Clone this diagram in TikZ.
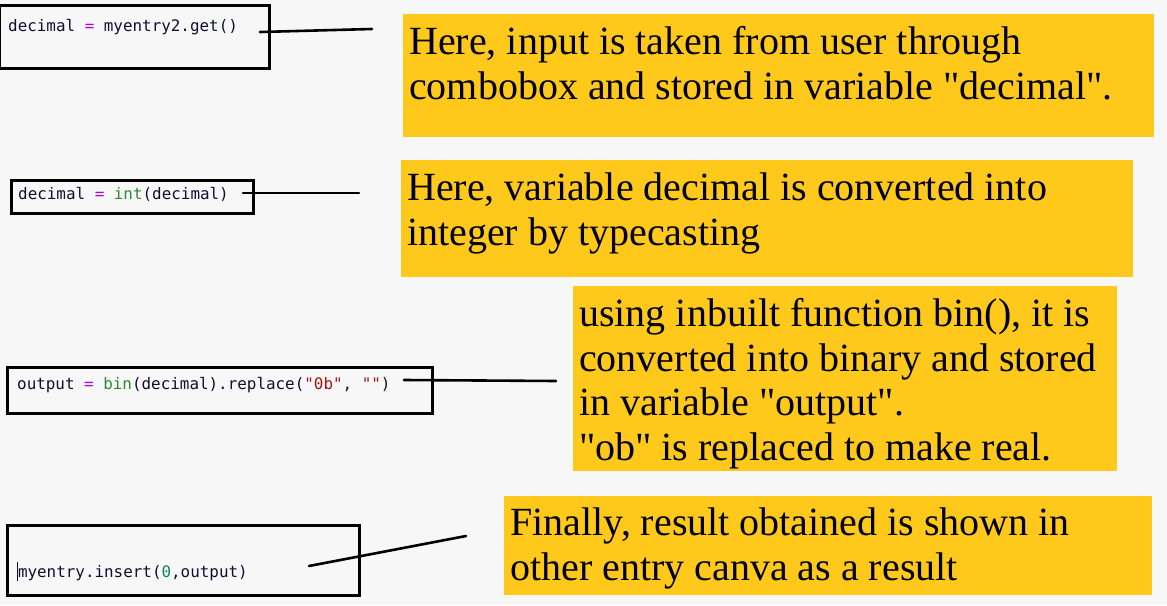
\documentclass[tikz,border=0pt]{standalone}
\usepackage{fontspec}
\setmainfont{Liberation Serif}
\setmonofont{DejaVu Sans Mono}
\definecolor{bgc}{HTML}{F7F7F7}
\definecolor{yel}{HTML}{FFC91C}
\definecolor{codetxt}{HTML}{101030}
\definecolor{kwpurple}{HTML}{AF00DB}
\definecolor{fngreen}{HTML}{2E8B2E}
\definecolor{strred}{HTML}{A31515}
\definecolor{numgreen}{HTML}{098658}
\tikzset{
  codebox/.style={draw=black, line width=3pt, rectangle, inner sep=0pt},
  codetext/.style={anchor=base west, inner sep=0pt, text=codetxt, font=\fontsize{15.9}{18}\ttfamily},
  ybox/.style={fill=yel, draw=none, rectangle, inner sep=0pt, anchor=north west},
  ytext/.style={anchor=base west, inner sep=0pt, align=left, font=\fontsize{40}{44.5}\selectfont},
  link/.style={draw=black, line width=2.6pt, line cap=round}
}
\newcommand{\kw}[1]{\textcolor{kwpurple}{#1}}
\newcommand{\fn}[1]{\textcolor{fngreen}{#1}}
\newcommand{\st}[1]{\textcolor{strred}{#1}}
\newcommand{\nm}[1]{\textcolor{numgreen}{#1}}
\newcommand{\dq}{\textquotedbl}
\begin{document}
\begin{tikzpicture}[x=1pt,y=-1pt]
\fill[bgc] (0,0) rectangle (1167,605);
\useasboundingbox (0,0) rectangle (1167,605);

% code boxes
\node[codebox, minimum width=270pt, minimum height=63pt, anchor=north west] (c1) at (-2,4) {};
\node[codebox, minimum width=242pt, minimum height=33pt, anchor=north west] (c2) at (10,179) {};
\node[codebox, minimum width=425pt, minimum height=46pt, anchor=north west] (c3) at (6,366) {};
\node[codebox, minimum width=352pt, minimum height=70pt, anchor=north west] (c4) at (6,524) {};

\node[codetext] (k1) at (8,31) {decimal \kw{=} myentry2.get()};
\node[codetext] (k2) at (18,199) {decimal \kw{=} \fn{int}(decimal)};
\node[codetext] (k3) at (17,389) {output \kw{=} \fn{bin}(decimal).replace(\st{"0b"}, \st{""})};
\node[codetext] (k4) at (17,577) {\rule[-4pt]{0.8pt}{19pt}myentry.insert(\nm{0},output)};

% yellow boxes
\node[ybox, minimum width=751pt, minimum height=123pt] (y1) at (403,14) {};
\node[ybox, minimum width=732pt, minimum height=117pt] (y2) at (401,160) {};
\node[ybox, minimum width=544pt, minimum height=185pt] (y3) at (573,286) {};
\node[ybox, minimum width=648pt, minimum height=99pt] (y4) at (504,496) {};

\node[ytext] (t1) at (409,99) {Here, input is taken from user through\\combobox and stored in variable \dq decimal\dq.};
\node[ytext] (t2) at (407,245) {Here, variable decimal is converted into\\integer by typecasting};
\node[ytext] (t3) at (579,460) {using inbuilt function bin(), it is\\converted into binary and stored\\in variable \dq output\dq.\\\dq ob\dq{} is replaced to make real.};
\node[ytext] (t4) at (510,580) {Finally, result obtained is shown in\\other entry canva as a result};

% connector lines
\coordinate (a1) at (260,32);
\coordinate (b1) at (372,29);
\coordinate (a2) at (243,193);
\coordinate (b2) at (359,193);
\coordinate (a3) at (404,380);
\coordinate (b3) at (556,381);
\coordinate (a4) at (309,566);
\coordinate (b4) at (466,536);
\draw[link] (a1) -- (b1);
\draw[link] (a2) -- (b2);
\draw[link] (a3) -- (b3);
\draw[link] (a4) -- (b4);
\end{tikzpicture}
\end{document}
